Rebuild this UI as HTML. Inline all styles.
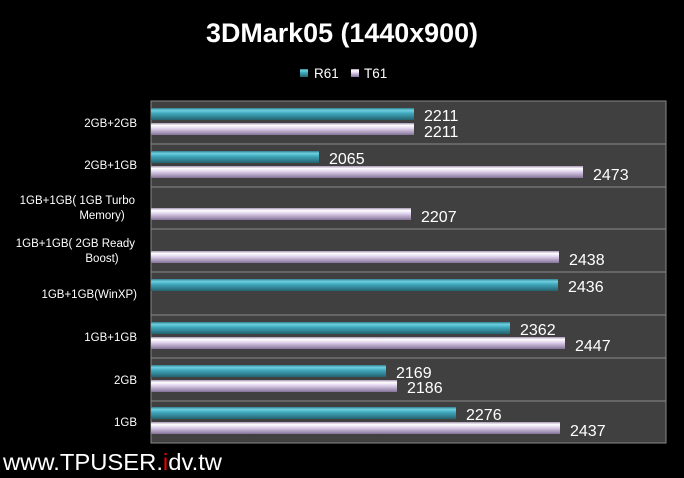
<!DOCTYPE html><html><head><style>body{margin:0;background:#000}svg{display:block}text{font-family:"Liberation Sans",sans-serif;fill:#fff}</style></head><body>
<svg width="684" height="478" viewBox="0 0 684 478">
<defs>
<linearGradient id="r" x1="0" y1="0" x2="0" y2="1"><stop offset="0" stop-color="#2f7f8f"/><stop offset=".2" stop-color="#6fd0e0"/><stop offset=".45" stop-color="#3fa8bc"/><stop offset="1" stop-color="#25626f"/></linearGradient>
<linearGradient id="t" x1="0" y1="0" x2="0" y2="1"><stop offset="0" stop-color="#a795b5"/><stop offset=".2" stop-color="#ffffff"/><stop offset=".45" stop-color="#e2d4ee"/><stop offset="1" stop-color="#84739a"/></linearGradient>
</defs>
<rect width="684" height="478" fill="#000"/>
<text x="342" y="42" text-anchor="middle" font-size="27" font-weight="bold" textLength="272" lengthAdjust="spacingAndGlyphs">3DMark05 (1440x900)</text>
<rect x="300" y="69" width="8" height="8" fill="url(#r)"/><text x="314" y="78" font-size="13.5">R61</text>
<rect x="351" y="69" width="8" height="8" fill="url(#t)"/><text x="364" y="78" font-size="13.5">T61</text>
<rect x="151" y="101" width="515" height="342" fill="#404040" stroke="#888" stroke-width="1"/>
<g stroke="#8a8a8a" stroke-width="1">
<line x1="151" y1="144" x2="666" y2="144"/><line x1="151" y1="187" x2="666" y2="187"/><line x1="151" y1="229" x2="666" y2="229"/><line x1="151" y1="272" x2="666" y2="272"/><line x1="151" y1="315" x2="666" y2="315"/><line x1="151" y1="358" x2="666" y2="358"/><line x1="151" y1="401" x2="666" y2="401"/><line x1="151" y1="443" x2="666" y2="443"/>
</g>
<g font-size="11.5" text-anchor="end">
<text x="137" y="127">2GB+2GB</text>
<text x="137" y="169">2GB+1GB</text>
<text x="135" y="204">1GB+1GB( 1GB Turbo</text><text x="102" y="219" text-anchor="middle">Memory)</text>
<text x="135" y="247">1GB+1GB( 2GB Ready</text><text x="102" y="262" text-anchor="middle">Boost)</text>
<text x="137" y="298">1GB+1GB(WinXP)</text>
<text x="137" y="341">1GB+1GB</text>
<text x="137" y="384">2GB</text>
<text x="137" y="426">1GB</text>
</g>
<g>
<rect x="151" y="108" width="263" height="12" fill="url(#r)"/><rect x="151" y="123" width="263" height="12" fill="url(#t)"/>
<rect x="151" y="151" width="168" height="12" fill="url(#r)"/><rect x="151" y="166" width="432" height="12" fill="url(#t)"/>
<rect x="151" y="208" width="260" height="12" fill="url(#t)"/>
<rect x="151" y="251" width="408" height="12" fill="url(#t)"/>
<rect x="151" y="279" width="407" height="12" fill="url(#r)"/>
<rect x="151" y="322" width="359" height="12" fill="url(#r)"/><rect x="151" y="337" width="414" height="12" fill="url(#t)"/>
<rect x="151" y="365" width="235" height="12" fill="url(#r)"/><rect x="151" y="380" width="246" height="12" fill="url(#t)"/>
<rect x="151" y="407" width="305" height="12" fill="url(#r)"/><rect x="151" y="422" width="409" height="12" fill="url(#t)"/>
</g>
<g font-size="16">
<text x="424" y="121">2211</text><text x="424" y="137">2211</text>
<text x="329" y="164">2065</text><text x="593" y="180">2473</text>
<text x="421" y="222">2207</text>
<text x="569" y="265">2438</text>
<text x="568" y="292">2436</text>
<text x="520" y="335">2362</text><text x="575" y="351">2447</text>
<text x="396" y="378">2169</text><text x="407" y="393">2186</text>
<text x="466" y="420">2276</text><text x="570" y="436">2437</text>
</g>
<text x="3" y="470" font-size="23" textLength="219" lengthAdjust="spacingAndGlyphs">www.TPUSER.<tspan style="fill:#e00">i</tspan>dv.tw</text>
</svg>
</body></html>
